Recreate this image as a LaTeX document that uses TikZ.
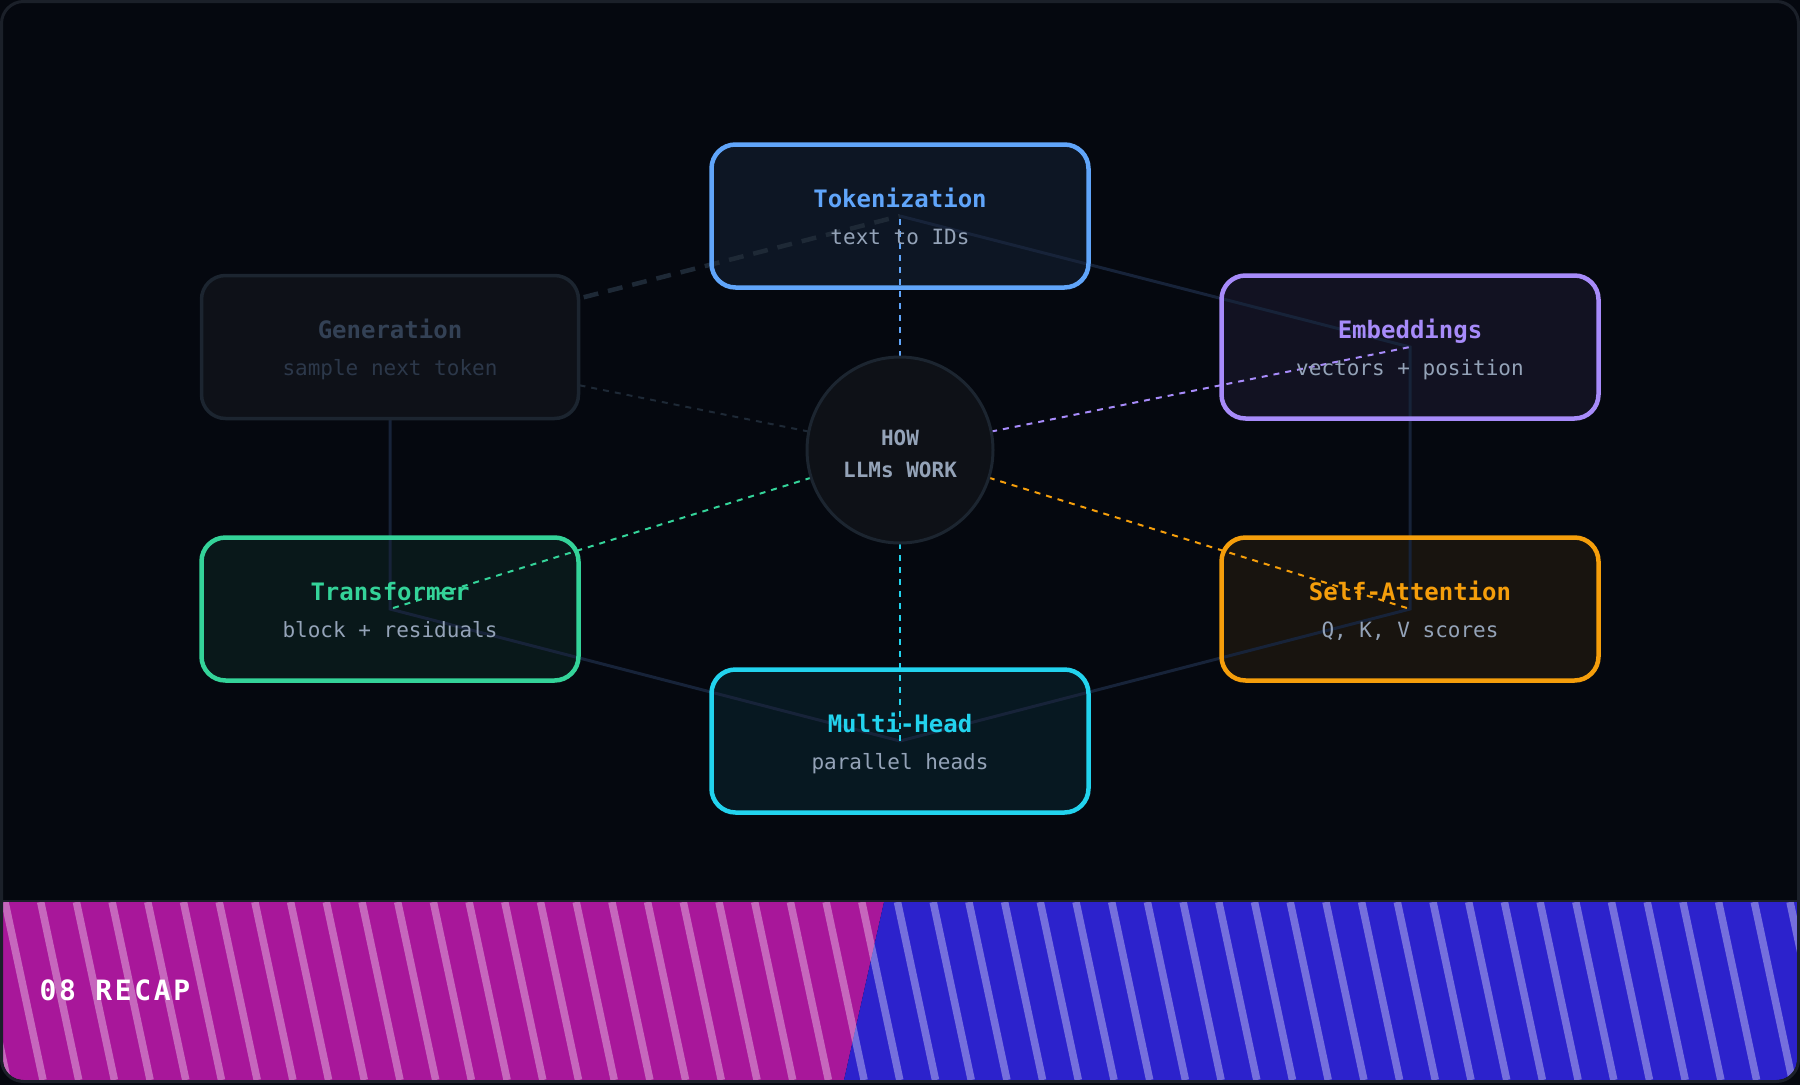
\documentclass[tikz,border=0pt]{standalone}
\usepackage{fontspec}
\setmainfont{DejaVu Sans Mono}
\usepackage{tikz}
\usepackage{xcolor}

\definecolor{bgc}{HTML}{05080F}
\definecolor{framec}{HTML}{1B2029}
\definecolor{tokc}{HTML}{60A5FA}
\definecolor{embc}{HTML}{A78BFA}
\definecolor{attc}{HTML}{F59E0B}
\definecolor{headc}{HTML}{22D3EE}
\definecolor{trc}{HTML}{34D399}
\definecolor{genc}{HTML}{334155}
\definecolor{genline}{HTML}{1C2530}
\definecolor{genfill}{HTML}{0E1118}
\definecolor{gendash}{HTML}{1E2936}
\definecolor{hubline}{HTML}{1C2530}
\definecolor{hubfill}{HTML}{0E1117}
\definecolor{subc}{HTML}{94A3B8}
\definecolor{hexc}{HTML}{172339}
\definecolor{magc}{HTML}{A8179A}
\definecolor{bluc}{HTML}{2C22CC}

\pgfdeclarelayer{back}
\pgfdeclarelayer{fills}
\pgfdeclarelayer{links}
\pgfsetlayers{back,fills,links,main}

\begin{document}
\begin{tikzpicture}[x=1pt,y=-1pt,
    box/.style={rectangle, rounded corners=24pt, minimum width=377pt, minimum height=143pt, line width=4.5pt, outer sep=0pt, inner sep=0pt},
    ttl/.style={anchor=base, font=\fontsize{24}{28}\selectfont\bfseries},
    sub/.style={anchor=base, font=\fontsize{21}{25}\selectfont, text=subc},
    hexline/.style={draw=hexc, line width=3pt},
    spoke/.style={line width=2pt, dash pattern=on 6pt off 6pt},
    stripe/.style={draw=white, draw opacity=0.35, line width=7.5pt}]
\useasboundingbox (0,0) rectangle (1800,1085);

\node[box, draw=tokc] (tok) at (900,216) {};
\node[ttl, text=tokc] (toktitle) at ([yshift=9pt]tok.center) {Tokenization};
\node[sub] (toksub) at ([yshift=-28.5pt]tok.center) {text to IDs};

\node[box, draw=embc] (emb) at (1410,347) {};
\node[ttl, text=embc] (embtitle) at ([yshift=9pt]emb.center) {Embeddings};
\node[sub] (embsub) at ([yshift=-28.5pt]emb.center) {vectors + position};

\node[box, draw=attc] (att) at (1410,609) {};
\node[ttl, text=attc] (atttitle) at ([yshift=9pt]att.center) {Self-Attention};
\node[sub] (attsub) at ([yshift=-28.5pt]att.center) {Q, K, V scores};

\node[box, draw=headc] (head) at (900,741) {};
\node[ttl, text=headc] (headtitle) at ([yshift=9pt]head.center) {Multi-Head};
\node[sub] (headsub) at ([yshift=-28.5pt]head.center) {parallel heads};

\node[box, draw=trc] (tr) at (390,609) {};
\node[ttl, text=trc] (trtitle) at ([yshift=9pt]tr.center) {Transformer};
\node[sub] (trsub) at ([yshift=-28.5pt]tr.center) {block + residuals};

\node[box, draw=genline, line width=3.5pt, fill=genfill] (gen) at (390,347) {};
\node[ttl, text=genc] (gentitle) at ([yshift=9pt]gen.center) {Generation};
\node[sub, text=genc!85!bgc] (gensub) at ([yshift=-28.5pt]gen.center) {sample next token};

\node[circle, minimum size=186pt, line width=3pt, draw=hubline, fill=hubfill, outer sep=0pt, inner sep=0pt] (hub) at (900,450) {};
\node[ttl, font=\fontsize{21}{25}\selectfont\bfseries, text=subc] (hubtop) at ([yshift=5pt]hub.center) {HOW};
\node[ttl, font=\fontsize{21}{25}\selectfont\bfseries, text=subc] (hubbot) at ([yshift=-27pt]hub.center) {LLMs WORK};

\node[anchor=base west, text=white, font=\fontsize{28}{32}\selectfont\bfseries\addfontfeature{LetterSpace=9.5}] (recap) at (36,1000) {08 RECAP};

\begin{pgfonlayer}{links}
\draw[hexline] (tok.center) -- (emb.center) -- (att.center) -- (head.center) -- (tr.center) -- (gen.center);
\draw[draw=gendash, line width=4.5pt, dash pattern=on 15pt off 10pt] (gen.center) -- (tok.center);
\draw[spoke, tokc] (hub) -- (tok.center);
\draw[spoke, embc] (hub) -- (emb.center);
\draw[spoke, attc] (hub) -- (att.center);
\draw[spoke, headc] (hub) -- (head.center);
\draw[spoke, trc] (hub) -- (tr.center);
\draw[spoke, gendash] (hub) -- (gen.center);
\end{pgfonlayer}

\begin{pgfonlayer}{fills}
\fill[tokc!9!bgc, rounded corners=24pt] (tok.north west) rectangle (tok.south east);
\fill[embc!8!bgc, rounded corners=24pt] (emb.north west) rectangle (emb.south east);
\fill[attc!8!bgc, rounded corners=24pt] (att.north west) rectangle (att.south east);
\fill[headc!8!bgc, rounded corners=24pt] (head.north west) rectangle (head.south east);
\fill[trc!8!bgc, rounded corners=24pt] (tr.north west) rectangle (tr.south east);
\end{pgfonlayer}

\begin{pgfonlayer}{back}
\fill[bgc] (0,0) rectangle (1800,1085);
\begin{scope}
\clip[rounded corners=20pt] (3,3) rectangle (1797,1080);
\fill[magc] (3,902) -- (884,902) -- (844,1080) -- (3,1080) -- cycle;
\fill[bluc] (884,902) -- (1797,902) -- (1797,1080) -- (844,1080) -- cycle;
\clip (3,902) rectangle (1797,1080);
\foreach \i in {-2,...,50}
    \draw[stripe] ({5+35.7*\i},902) -- ({43+35.7*\i},1080);
\end{scope}
\draw[framec, line width=2pt] (3,900.5) -- (1797,900.5);
\draw[framec, line width=3pt, rounded corners=22pt] (1.5,1.5) rectangle (1798.5,1081.5);
\end{pgfonlayer}
\end{tikzpicture}
\end{document}
